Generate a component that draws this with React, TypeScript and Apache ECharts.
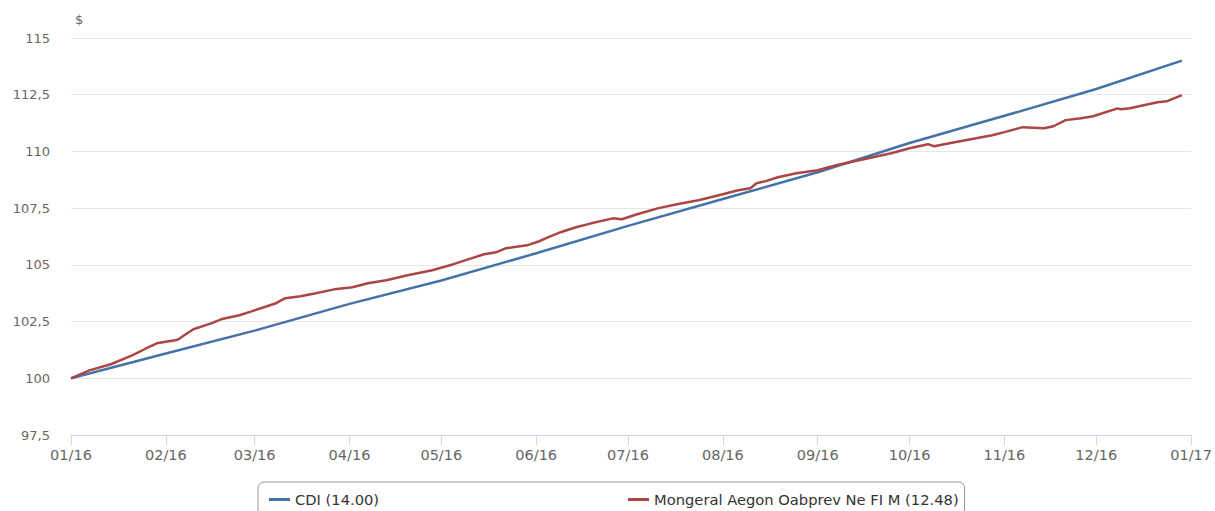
import React, { useEffect, useRef } from "react";
import * as echarts from "echarts";

const cdiName = "CDI (14.00)";
const fundName = "Mongeral Aegon Oabprev Ne FI M (12.48)";

const cdiDates = [
  "2016-01-01", "2016-02-01", "2016-03-01", "2016-04-01", "2016-05-01", "2016-06-01",
  "2016-07-01", "2016-08-01", "2016-09-01", "2016-10-01", "2016-11-01", "2016-12-01", "2016-12-29",
];
const cdiValues = [100, 101.09, 102.1, 103.28, 104.31, 105.51, 106.72, 107.9, 109.08, 110.37, 111.57, 112.75, 114.0];

const fundDates = [
  "2016-01-01", "2016-01-07", "2016-01-14", "2016-01-21", "2016-01-25", "2016-01-29",
  "2016-02-04", "2016-02-05", "2016-02-07", "2016-02-10", "2016-02-16", "2016-02-19", "2016-02-25", "2016-02-29",
  "2016-03-04", "2016-03-08", "2016-03-11", "2016-03-16", "2016-03-21", "2016-03-27", "2016-03-30",
  "2016-04-02", "2016-04-07", "2016-04-13", "2016-04-20", "2016-04-28",
  "2016-05-05", "2016-05-10", "2016-05-15", "2016-05-19", "2016-05-22", "2016-05-29",
  "2016-06-02", "2016-06-05", "2016-06-09", "2016-06-14", "2016-06-19", "2016-06-26", "2016-06-29",
  "2016-07-04", "2016-07-11", "2016-07-17", "2016-07-24",
  "2016-08-01", "2016-08-06", "2016-08-10", "2016-08-12", "2016-08-15", "2016-08-19", "2016-08-25",
  "2016-09-01", "2016-09-07", "2016-09-13", "2016-09-19", "2016-09-25",
  "2016-10-01", "2016-10-07", "2016-10-09", "2016-10-14", "2016-10-21", "2016-10-28",
  "2016-11-01", "2016-11-07", "2016-11-14", "2016-11-17", "2016-11-21", "2016-11-26", "2016-11-30",
  "2016-12-02", "2016-12-08", "2016-12-09", "2016-12-12", "2016-12-18", "2016-12-21", "2016-12-24", "2016-12-29",
];
const fundValues = [
  100, 100.35, 100.62, 101.01, 101.28, 101.54,
  101.68, 101.71, 101.9, 102.16, 102.43, 102.6, 102.78, 102.95,
  103.13, 103.31, 103.53, 103.62, 103.75, 103.92, 103.97,
  104.01, 104.19, 104.32, 104.54, 104.76,
  105.03, 105.25, 105.47, 105.56, 105.73, 105.86,
  106.04, 106.22, 106.44, 106.66, 106.83, 107.05, 107.01,
  107.23, 107.5, 107.67, 107.85,
  108.11, 108.29, 108.38, 108.6, 108.69, 108.86, 109.04,
  109.17, 109.39, 109.57, 109.74, 109.92,
  110.14, 110.32, 110.23, 110.36, 110.54, 110.71,
  110.85, 111.07, 111.02, 111.11, 111.38, 111.46, 111.55,
  111.64, 111.9, 111.86, 111.9, 112.08, 112.17, 112.21, 112.48,
];

const xMin = "2016-01-01";
const xMax = "2017-01-01";
const yMin = 97.5;
const yMax = 115;
const yInterval = 2.5;

export default function App() {
  const ref = useRef<HTMLDivElement>(null);
  useEffect(() => {
    if (!ref.current) return;
    const chart = echarts.init(ref.current, null, { renderer: "svg" });
    const day = 86400000;
    chart.setOption({
      animation: false,
      backgroundColor: "#ffffff",
      grid: { left: 71, right: 22, top: 38, bottom: 76 },
      legend: {
        left: 258,
        top: 482,
        padding: [10, 6, 10, 11],
        borderColor: "#999999",
        borderWidth: 1,
        borderRadius: 6,
        itemGap: 249,
        itemWidth: 21,
        itemHeight: 3,
        icon: "rect",
        textStyle: { fontFamily: "DejaVu Sans", fontSize: 14.7, color: "#333333" },
        data: [cdiName, fundName],
      },
      xAxis: {
        type: "time",
        min: xMin,
        max: xMax,
        splitNumber: 12,
        minInterval: 28 * day,
        maxInterval: 31 * day,
        axisLine: { show: true, lineStyle: { color: "#ccd6eb", width: 1 } },
        axisTick: { show: true, length: 10, lineStyle: { color: "#ccd6eb" } },
        splitLine: { show: false },
        axisLabel: {
          margin: 12,
          color: "#666666",
          fontFamily: "DejaVu Sans",
          fontSize: 14.5,
          hideOverlap: false,
          showMinLabel: true,
          showMaxLabel: true,
          formatter: (val: number) => {
            const d = new Date(val);
            const mm = String(d.getMonth() + 1).padStart(2, "0");
            const yy = String(d.getFullYear() % 100).padStart(2, "0");
            return mm + "/" + yy;
          },
        },
      },
      yAxis: {
        type: "value",
        min: yMin,
        max: yMax,
        interval: yInterval,
        name: "$",
        nameLocation: "end",
        nameGap: 12,
        nameTextStyle: { color: "#666666", fontFamily: "DejaVu Sans", fontSize: 13, align: "left", padding: [0, 0, 0, 4] },
        axisLine: { show: false },
        axisTick: { show: false },
        splitLine: { show: true, lineStyle: { color: "#e6e6e6", width: 1 } },
        axisLabel: {
          margin: 21,
          color: "#666666",
          fontFamily: "DejaVu Sans",
          fontSize: 13,
          formatter: (v: number) => String(v).replace(".", ","),
        },
      },
      series: [
        {
          name: cdiName,
          type: "line",
          showSymbol: false,
          color: "#4572a7",
          lineStyle: { width: 2.5, color: "#4572a7" },
          data: cdiDates.map((d, i) => [d, cdiValues[i]]),
        },
        {
          name: fundName,
          type: "line",
          showSymbol: false,
          color: "#aa4643",
          lineStyle: { width: 2.5, color: "#aa4643" },
          data: fundDates.map((d, i) => [d, fundValues[i]]),
        },
      ],
    });
    return () => chart.dispose();
  }, []);
  return (
    <div
      ref={ref}
      style={{ position: "fixed", left: 0, top: 0, width: 1215, height: 511, overflow: "hidden" }}
    />
  );
}
